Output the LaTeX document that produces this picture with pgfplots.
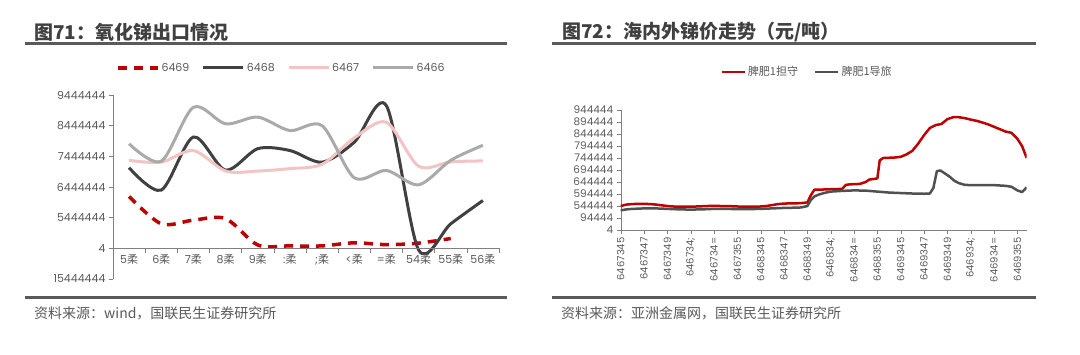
\documentclass[border=0pt]{standalone}
\usepackage{fontspec}
\usepackage{pgfplots}
\pgfplotsset{compat=1.18}
\setmainfont{Noto Sans CJK SC}
\newfontfamily\pop{Poppins}
\definecolor{tgray}{RGB}{64,64,64}
\definecolor{lgray}{RGB}{90,90,90}
\definecolor{txgray}{RGB}{89,89,89}
\definecolor{axgray}{RGB}{128,128,128}
\definecolor{cred}{RGB}{192,0,0}
\definecolor{cdark}{RGB}{64,64,64}
\definecolor{cpink}{RGB}{242,196,196}
\definecolor{clgray}{RGB}{170,170,170}
\definecolor{rgray}{RGB}{80,80,80}
\begin{document}
\begin{tikzpicture}[x=1pt,y=1pt]
\path[use as bounding box] (0,0) rectangle (1080,354);
% titles and rules
\node[anchor=west, inner sep=0, text=tgray, font=\fontsize{19}{19}\selectfont\bfseries] at (34,322) {图71：氧化锑出口情况};
\node[anchor=west, inner sep=0, text=tgray, font=\fontsize{19}{19}\selectfont\bfseries] at (562,322) {图72：海内外锑价走势（元/吨）};
\draw[line width=3pt, lgray] (25,310) -- (507,310);
\draw[line width=3pt, lgray] (552,310) -- (1036,310);
\draw[line width=3pt, lgray] (25,57) -- (507,57);
\draw[line width=3pt, lgray] (552,57) -- (1036,57);
\node[anchor=west, inner sep=0, text=txgray, font=\fontsize{14}{14}\selectfont] at (34,41) {资料来源：wind，国联民生证券研究所};
\node[anchor=west, inner sep=0, text=txgray, font=\fontsize{14}{14}\selectfont] at (561,41) {资料来源：亚洲金属网，国联民生证券研究所};

% left chart: data and y axis
\begin{axis}[
  at={(113pt,75pt)}, anchor=south west, scale only axis,
  width=386pt, height=184pt,
  xmin=0, xmax=12, ymin=-1, ymax=5,
  axis x line=none, axis y line*=left,
  ytick={-1,0,1,2,3,4,5},
  yticklabels={15444444,4,5444444,6444444,7444444,8444444,9444444},
  tick align=outside, major tick length=4pt,
  every tick/.style={axgray},
  axis line style={axgray},
  yticklabel style={font=\pop\fontsize{11}{11}\selectfont, text=txgray},
  clip=false,
  legend columns=4,
  legend style={at={(0.436,1.147)}, anchor=center, draw=none, fill=none,
    font=\pop\fontsize{11}{11}\selectfont, text=txgray,
    /tikz/every even column/.style={column sep=10.5pt}},
  legend image code/.code={\draw[#1] (0pt,0pt) -- (40pt,0pt);},
]
\addplot[cred, line width=3.5pt, dash pattern=on 9pt off 7pt, smooth, tension=0.5] coordinates {
(0.5,1.69) (1.5,0.80) (2.5,0.92) (3.5,0.97) (4.5,0.11) (5.5,0.08) (6.5,0.08) (7.5,0.18) (8.5,0.12) (9.5,0.17) (10.5,0.32)};
\addlegendentry{6469}
\addplot[cdark, line width=3pt, smooth, tension=0.5] coordinates {
(0.5,2.63) (1.5,1.90) (2.5,3.63) (3.5,2.55) (4.5,3.25) (5.5,3.19) (6.5,2.81) (7.5,3.46) (8.5,4.65) (9.5,-0.05) (10.5,0.80) (11.5,1.56)};
\addlegendentry{6468}
\addplot[cpink, line width=3pt, smooth, tension=0.5] coordinates {
(0.5,2.87) (1.5,2.81) (2.5,3.19) (3.5,2.52) (4.5,2.52) (5.5,2.60) (6.5,2.74) (7.5,3.60) (8.5,4.11) (9.5,2.68) (10.5,2.82) (11.5,2.85)};
\addlegendentry{6467}
\addplot[clgray, line width=3pt, smooth, tension=0.5] coordinates {
(0.5,3.41) (1.5,2.84) (2.5,4.60) (3.5,4.06) (4.5,4.28) (5.5,3.84) (6.5,4.00) (7.5,2.30) (8.5,2.54) (9.5,2.07) (10.5,2.87) (11.5,3.36)};
\addlegendentry{6466}
\end{axis}

% left chart: category axis at zero
\begin{axis}[
  at={(113pt,106pt)}, anchor=south west, scale only axis,
  width=386pt, height=153pt,
  xmin=0, xmax=12, ymin=0, ymax=1,
  axis y line=none, axis x line*=bottom,
  xtick={0.5,1.5,2.5,3.5,4.5,5.5,6.5,7.5,8.5,9.5,10.5,11.5},
  xticklabels={{\pop 5}柔,{\pop 6}柔,{\pop 7}柔,{\pop 8}柔,{\pop 9}柔,{\pop :}柔,{\pop ;}柔,{\pop <}柔,{\pop =}柔,{\pop 54}柔,{\pop 55}柔,{\pop 56}柔},
  major tick length=0pt,
  minor xtick={0,1,...,12}, minor tick length=5pt,
  tick align=outside,
  every tick/.style={axgray},
  axis line style={axgray},
  xticklabel style={font=\fontsize{11}{11}\selectfont, text=txgray, yshift=-3pt},
]
\end{axis}

% right chart
\begin{axis}[
  at={(620.7pt,124pt)}, anchor=south west, scale only axis,
  width=406pt, height=120pt,
  xmin=0, xmax=34.8, ymin=0, ymax=500,
  axis x line*=bottom, axis y line*=left,
  xtick={0,2,...,34},
  xticklabels={6467345,6467347,6467349,{646734;},{646734=},6467355,6468345,6468347,6468349,{646834;},{646834=},6468355,6469345,6469347,6469349,{646934;},{646934=},6469355},
  xticklabel style={rotate=90, anchor=east, font=\pop\fontsize{10}{10}\selectfont, text=txgray},
  ytick={0,50,...,500},
  yticklabels={4,94444,544444,594444,644444,694444,744444,794444,844444,894444,944444},
  yticklabel style={font=\pop\fontsize{10.5}{10.5}\selectfont, text=txgray},
  tick align=outside, major tick length=4pt,
  every tick/.style={axgray},
  axis line style={axgray},
  legend columns=2,
  legend style={at={(0.459,1.317)}, anchor=center, draw=none, fill=none,
    font=\fontsize{11}{11}\selectfont, text=txgray,
    /tikz/every even column/.style={column sep=14pt}},
  legend image code/.code={\draw[#1] (0pt,0pt) -- (23pt,0pt);},
]
\addplot[cred, line width=2.5pt, line join=round] coordinates {
(0,100) (0.5,106) (1,108) (1.5,109) (2,109) (2.5,108) (3,106) (3.5,103) (4,100) (4.5,98) (5,97) (5.5,97) (6,97) (6.5,98) (7,99) (7.5,100) (8,101) (8.5,100) (9,100) (9.5,99) (10,98) (10.5,97) (11,97) (11.5,97) (12,98) (12.5,100) (13,104) (13.5,108) (14,110) (14.5,111) (15,111) (15.5,112) (16,115) (16.3,145) (16.6,168) (17,168) (17.5,169) (18,170) (18.5,170) (19,172) (19.3,188) (19.6,190) (20,191) (20.5,192) (21,200) (21.3,210) (21.6,212) (22,215) (22.2,290) (22.5,300) (23,301) (23.5,302) (24,305) (24.5,315) (25,330) (25.5,360) (26,395) (26.5,425) (27,437) (27.5,442) (28,462) (28.5,470) (29,470) (29.5,466) (30,460) (30.5,455) (31,448) (31.5,440) (32,430) (32.5,420) (33,410) (33.5,405) (34,380) (34.4,350) (34.8,300)};
\addlegendentry{脾肥1担守}
\addplot[rgray, line width=2.5pt, line join=round] coordinates {
(0,82) (0.5,86) (1,88) (1.5,89) (2,90) (3,90) (4,88) (5,86) (6,85) (7,86) (8,88) (9,88) (10,87) (11,87) (12,88) (13,90) (14,92) (15,93) (15.5,94) (16,100) (16.3,125) (16.6,140) (17,148) (17.5,155) (18,160) (19,163) (20,165) (21,164) (22,160) (23,156) (24,154) (25,152) (26,151) (26.5,152) (26.8,175) (27.1,245) (27.4,248) (27.8,235) (28.2,222) (28.6,205) (29,195) (29.5,188) (30,187) (31,187) (32,187) (33,184) (33.5,180) (34,165) (34.4,158) (34.6,168) (34.8,178)};
\addlegendentry{脾肥1导旅}
\end{axis}
\end{tikzpicture}
\end{document}
